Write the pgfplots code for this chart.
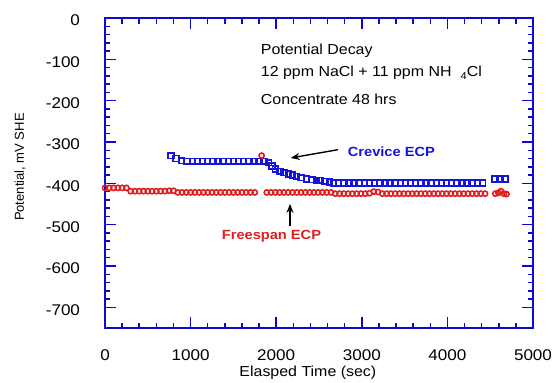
\documentclass[border=0pt]{standalone}
\usepackage{fontspec}
\setmainfont{Liberation Sans}[FakeStretch=1.1]
\newfontfamily\plainsans{Liberation Sans}
\usepackage{pgfplots}
\pgfplotsset{compat=1.18}
\usetikzlibrary{arrows.meta}
\definecolor{frameblue}{RGB}{10,10,210}
\definecolor{datablue}{RGB}{20,20,220}
\definecolor{datared}{RGB}{225,30,30}
\begin{document}
\begin{tikzpicture}
\begin{axis}[
  scale only axis,
  width=428bp, height=310bp,
  xmin=0, xmax=5000, ymin=-750, ymax=0,
  xtick={0,1000,2000,3000,4000,5000},
  ytick={0,-100,-200,-300,-400,-500,-600,-700},
  minor x tick num=4, minor y tick num=4,
  tick align=inside,
  xtick pos=both, ytick pos=both,
  major tick length=11bp, minor tick length=5.5bp,
  tick style={frameblue, line width=1.5bp},
  axis line style={frameblue, line width=2.6bp},
  scaled ticks=false,
  /pgf/number format/assume math mode=true,
  /pgf/number format/1000 sep={},
  tick label style={font=\fontsize{15.5bp}{18bp}\selectfont},
  xticklabel style={yshift=-18.5bp},
  yticklabel style={xshift=-21.5bp, yshift=-2.5bp},
  xlabel={Elasped Time (sec)},
  xlabel style={font=\fontsize{14.5bp}{17bp}\selectfont, at={(axis description cs:0.474,0)}, anchor=north, yshift=-34bp},
  ylabel={Potential, mV SHE},
  ylabel style={font=\plainsans\fontsize{13bp}{15bp}\selectfont, at={(axis description cs:-0.1986,0.519)}, anchor=center},
  clip=false,
]
\addplot[only marks, mark=square, mark size=2.9bp, datablue, mark options={line width=1.7bp}] coordinates {
(770,-333) (830,-340) (895,-345) (960,-347) (1020,-347) (1080,-347) (1140,-347)
(1200,-347) (1260,-347) (1320,-347) (1380,-347) (1440,-347) (1500,-347) (1560,-347)
(1620,-347) (1680,-347) (1740,-347) (1800,-347) (1860,-347) (1910,-350) (1950,-358)
(1990,-365) (2044,-371) (2090,-374) (2142,-378) (2190,-380) (2239,-383) (2290,-386)
(2356,-389) (2420,-391) (2470,-393) (2512,-393) (2570,-395) (2620,-397) (2668,-399)
(2730,-399) (2790,-399) (2850,-399) (2910,-399) (2970,-399) (3030,-399) (3090,-399)
(3150,-399) (3210,-399) (3270,-399) (3330,-399) (3390,-399) (3450,-399) (3510,-399)
(3570,-399) (3630,-399) (3690,-399) (3750,-399) (3810,-399) (3870,-399) (3930,-399)
(3990,-399) (4050,-399) (4110,-399) (4170,-399) (4230,-399) (4290,-399) (4350,-399)
(4410,-399) (4556,-389) (4614,-389) (4673,-389)
};
\addplot[only marks, mark=o, mark size=2.6bp, datared, mark options={line width=1.6bp}] coordinates {
(0,-411) (50,-411) (100,-411) (150,-411) (200,-411) (250,-411)
(300,-419) (350,-419) (400,-419) (450,-419) (500,-419) (550,-419) (600,-419) (650,-419) (700,-419)
(750,-418) (800,-418)
(850,-422) (900,-422) (950,-422) (1000,-422) (1050,-422) (1100,-422) (1150,-422) (1200,-422)
(1250,-422) (1300,-422) (1350,-422) (1400,-422) (1450,-422) (1500,-422) (1550,-422) (1600,-422)
(1650,-422) (1700,-422) (1750,-422)
(1830,-333)
(1890,-422) (1940,-422) (1990,-422) (2040,-422) (2090,-422) (2140,-422) (2190,-422) (2240,-422)
(2290,-422) (2340,-422) (2390,-422) (2440,-422) (2490,-422) (2540,-422) (2590,-422) (2640,-422)
(2690,-425) (2740,-425) (2790,-425) (2840,-425) (2890,-425) (2940,-425) (2990,-425) (3040,-425)
(3090,-424) (3140,-420) (3190,-421) (3240,-425) (3290,-425) (3340,-425) (3390,-425) (3440,-425)
(3490,-425) (3540,-425) (3590,-425) (3640,-425) (3690,-425) (3740,-425) (3790,-425) (3840,-425)
(3890,-425) (3940,-425) (3990,-425) (4040,-425) (4090,-425) (4140,-425) (4190,-425) (4240,-425)
(4290,-425) (4340,-425) (4390,-425) (4440,-425)
(4560,-425) (4595,-423) (4625,-419) (4660,-425) (4690,-426)
};
\node[anchor=base west, inner sep=0pt, font=\fontsize{14.5bp}{17bp}\selectfont] at (axis cs:1819,-89.3) {Potential Decay};
\node[anchor=base west, inner sep=0pt, font=\fontsize{14.5bp}{17bp}\selectfont] at (axis cs:1819,-141.6) {12 ppm NaCl + 11 ppm NH\hspace{9bp}\raisebox{-3bp}{\fontsize{10bp}{12bp}\selectfont 4}Cl};
\node[anchor=base west, inner sep=0pt, font=\fontsize{14.5bp}{17bp}\selectfont] at (axis cs:1819,-210) {Concentrate 48 hrs};
\node[anchor=base west, inner sep=0pt, text=datablue, font=\bfseries\fontsize{13.3bp}{16bp}\selectfont] at (axis cs:2835,-334.8) {Crevice ECP};
\node[anchor=base west, inner sep=0pt, text=datared, font=\bfseries\fontsize{13.3bp}{16bp}\selectfont] at (axis cs:1363,-535.8) {Freespan ECP};
\draw[black, line width=1.4bp, -{Stealth[length=9bp,width=7bp]}] (axis cs:2722,-318.6) -- (axis cs:2169,-338.6);
\draw[black, line width=1.4bp, -{Stealth[length=9bp,width=7bp]}] (axis cs:2161,-503.7) -- (axis cs:2161,-449.7);
\end{axis}
\pgfresetboundingbox
\path[use as bounding box] (current axis.south west) ++(-105bp,-55bp) rectangle ++(557bp,383bp);
\end{tikzpicture}
\end{document}
